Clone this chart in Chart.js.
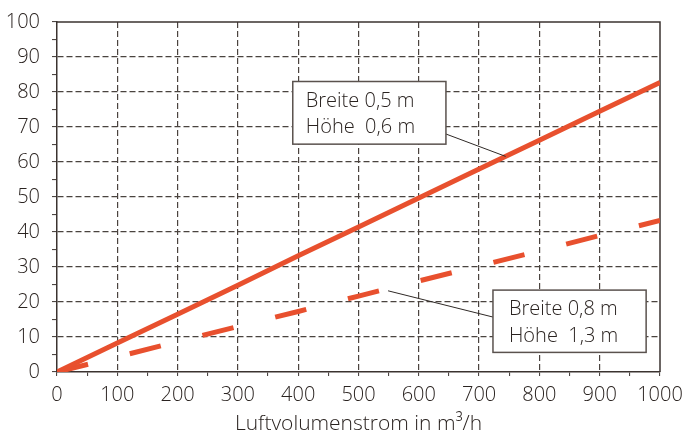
<!DOCTYPE html>
<html>
<head>
<meta charset="utf-8">
<script src="https://cdn.jsdelivr.net/npm/chart.js@4.4.0/dist/chart.umd.min.js"></script>
<style>
  html, body { margin: 0; padding: 0; background: #fff; }
  #wrap { width: 682px; height: 432px; position: relative; }
</style>
</head>
<body>
<div id="wrap"><canvas id="chart"></canvas></div>
<script>
// Luftvolumenstrom (m³/h) and read-off values for the two openings
const volumeFlow = [0, 100, 200, 300, 400, 500, 600, 700, 800, 900, 1000];
const smallOpening = [0, 8.3, 16.5, 24.8, 33.2, 41.4, 49.7, 58.0, 66.2, 74.5, 82.7];
const largeOpening = [0, 4.3, 8.7, 13.0, 17.3, 21.7, 26.0, 30.3, 34.6, 39.0, 43.3];

const smallLabel = ['Breite 0,5 m', 'Höhe  0,6 m'];
const largeLabel = ['Breite 0,8 m', 'Höhe  1,3 m'];
const xTitle = 'Luftvolumenstrom in m³/h';

const textColor = '#2a2320';
const axisColor = '#3b3330';
const gridColor = '#4a433f';
const lineColor = 'rgb(232, 80, 46)';
const fontFamily = '"Open Sans", "Noto Sans", sans-serif';
const fontWeight = 300;

// frame on top and right of the plot
const framePlugin = {
    id: 'frame',
    beforeDatasetsDraw(chart) {
        const { ctx, chartArea: a } = chart;
        ctx.save();
        ctx.strokeStyle = axisColor;
        ctx.lineWidth = 1.5;
        ctx.beginPath();
        ctx.moveTo(a.left, a.top);
        ctx.lineTo(a.right, a.top);
        ctx.lineTo(a.right, a.bottom);
        ctx.stroke();
        ctx.restore();
    }
};

// label boxes with leader lines, placed in data coordinates
const boxes = [
    { lines: smallLabel, x0: 391, x1: 645, y0: 83, y1: 65.1, pad: 13,
      from: [645, 68], to: [744, 61.6] },
    { lines: largeLabel, x0: 723, x1: 977, y0: 23.4, y1: 5.6, pad: 16,
      from: [723, 15.7], to: [549, 23.2] }
];

const boxPlugin = {
    id: 'boxes',
    afterDatasetsDraw(chart) {
        const { ctx, scales: { x, y } } = chart;
        ctx.save();
        boxes.forEach(b => {
            const l = x.getPixelForValue(b.x0), r = x.getPixelForValue(b.x1);
            const t = y.getPixelForValue(b.y0), btm = y.getPixelForValue(b.y1);
            ctx.strokeStyle = '#2f2926';
            ctx.lineWidth = 1;
            ctx.beginPath();
            ctx.moveTo(x.getPixelForValue(b.from[0]), y.getPixelForValue(b.from[1]));
            ctx.lineTo(x.getPixelForValue(b.to[0]), y.getPixelForValue(b.to[1]));
            ctx.stroke();
            ctx.fillStyle = '#fff';
            ctx.fillRect(l, t, r - l, btm - t);
            ctx.strokeStyle = '#5a524e';
            ctx.lineWidth = 1.5;
            ctx.strokeRect(l, t, r - l, btm - t);
            ctx.fillStyle = textColor;
            ctx.font = fontWeight + ' 20px ' + fontFamily;
            ctx.textBaseline = 'alphabetic';
            ctx.fillText(b.lines[0], l + b.pad, t + 25);
            ctx.fillText(b.lines[1], l + b.pad, t + 51.5);
        });
        ctx.restore();
    }
};

new Chart(document.getElementById('chart'), {
    type: 'line',
    data: {
        labels: volumeFlow,
        datasets: [
            {
                data: volumeFlow.map((v, i) => ({ x: v, y: smallOpening[i] })),
                borderColor: lineColor,
                borderWidth: 5,
                pointRadius: 0,
                tension: 0,
                borderCapStyle: 'butt'
            },
            {
                data: volumeFlow.map((v, i) => ({ x: v, y: largeOpening[i] })),
                borderColor: lineColor,
                borderWidth: 5,
                borderDash: [32, 43],
                pointRadius: 0,
                tension: 0,
                borderCapStyle: 'butt'
            }
        ]
    },
    options: {
        responsive: true,
        maintainAspectRatio: false,
        animation: false,
        layout: { padding: { top: 22, right: 22, left: 0, bottom: 0 } },
        scales: {
            x: {
                type: 'linear',
                min: 0,
                max: 1000,
                afterFit: s => { s.height = 60; s.paddingRight = 0; s.paddingLeft = 0; },
                ticks: {
                    stepSize: 50,
                    autoSkip: false,
                    maxRotation: 0,
                    padding: 7,
                    color: textColor,
                    font: { family: fontFamily, size: 20, weight: fontWeight },
                    callback: v => (v % 100 === 0 ? v : '')
                },
                grid: {
                    color: c => (c.tick && c.tick.value % 100 === 0 && c.tick.value > 0 && c.tick.value < 1000) ? gridColor : 'transparent',
                    tickColor: axisColor,
                    tickLength: 4,
                    tickWidth: 1,
                    lineWidth: 1.2
                },
                border: { color: axisColor, width: 1.5, dash: [6, 3] },
                title: {
                    display: true,
                    text: xTitle,
                    color: textColor,
                    font: { family: fontFamily, size: 21, weight: fontWeight },
                    padding: { top: 0, bottom: -5 }
                }
            },
            y: {
                min: 0,
                max: 100,
                afterFit: s => { s.width = 57; s.paddingTop = 0; s.paddingBottom = 0; },
                ticks: {
                    stepSize: 5,
                    autoSkip: false,
                    padding: 12,
                    color: textColor,
                    font: { family: fontFamily, size: 20, weight: fontWeight },
                    callback: v => (v % 10 === 0 ? v : '')
                },
                grid: {
                    color: c => (c.tick && c.tick.value % 10 === 0 && c.tick.value > 0 && c.tick.value < 100) ? gridColor : 'transparent',
                    tickColor: axisColor,
                    tickLength: 5,
                    tickWidth: 1,
                    lineWidth: 1.2
                },
                border: { color: axisColor, width: 1.5, dash: [6, 3] }
            }
        },
        plugins: {
            legend: { display: false },
            tooltip: { enabled: false }
        }
    },
    plugins: [framePlugin, boxPlugin]
});
</script>
</body>
</html>
